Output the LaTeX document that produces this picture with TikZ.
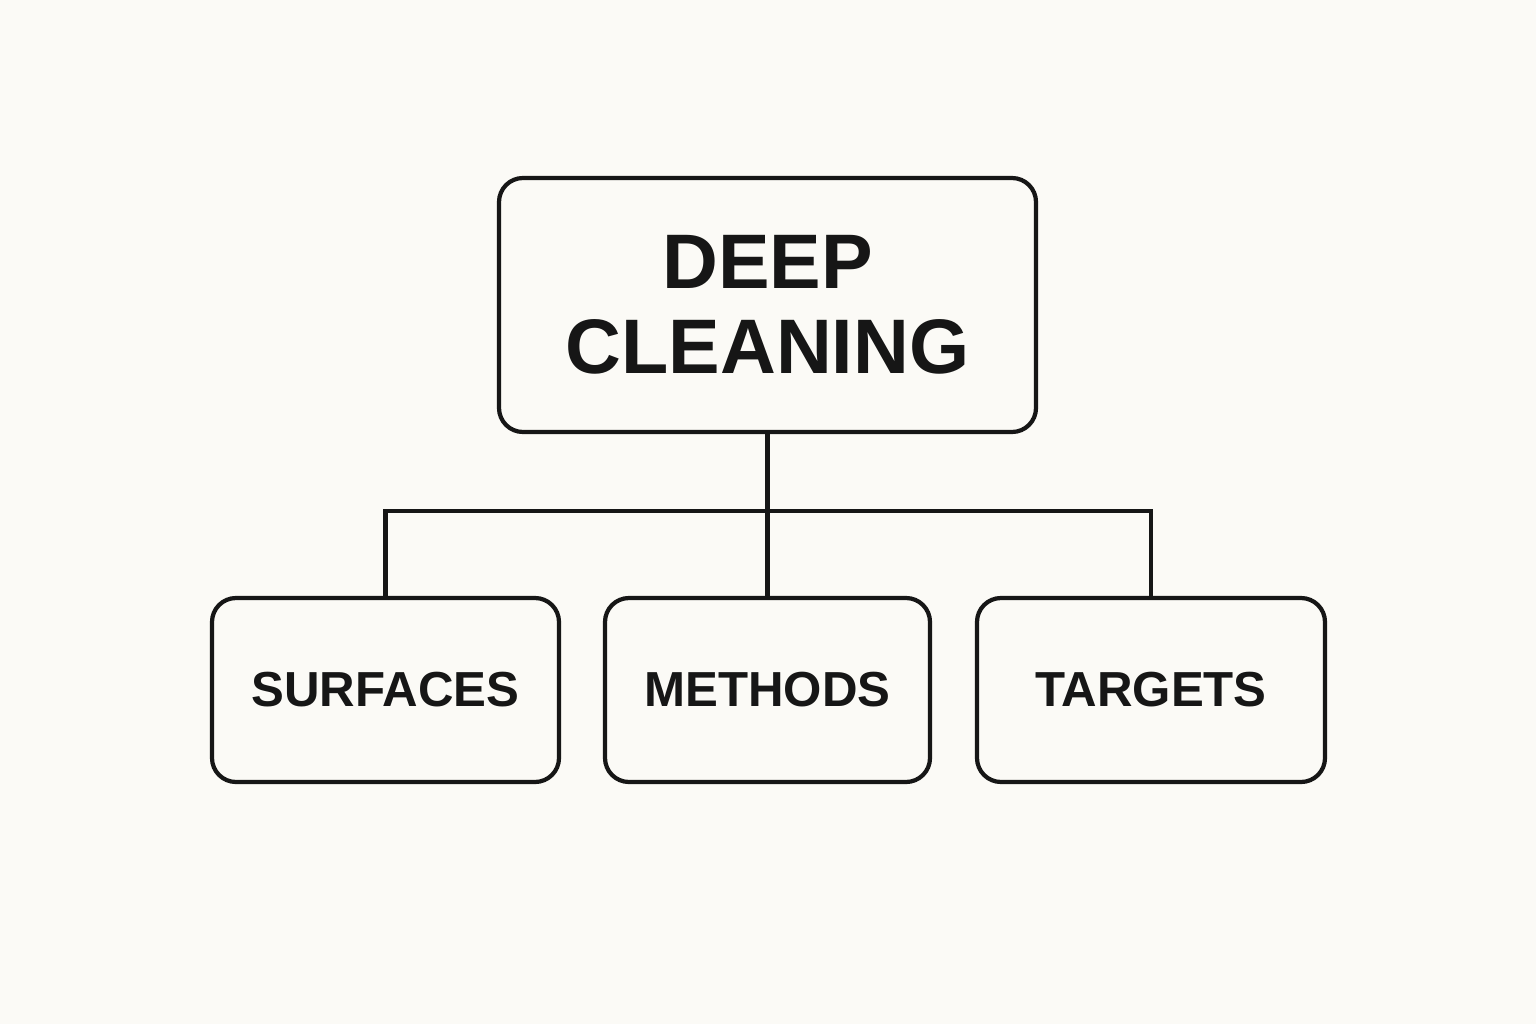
\documentclass[tikz,border=0pt]{standalone}
\usepackage{fontspec}
\setmainfont{Liberation Sans}
\usepackage[dvipsnames]{xcolor}
\definecolor{BGcolor}{HTML}{FBFAF6}
\definecolor{LINEcolor}{HTML}{161616}
\usepackage{tikz}
\usetikzlibrary{math}

\begin{document}
\begin{tikzpicture}
    \tikzmath{%
        \wfig=15.36;
        \hfig=10.24;
        \ytop=7.19;
        \ybox=3.34;
        \ybar=5.13;
    };
    \tikzset{%
        catbox/.style={draw=LINEcolor, line width=1.2pt, rounded corners=0.24cm,
            minimum height=1.84cm, inner sep=0pt, align=center,
            font=\fontsize{14pt}{16pt}\selectfont\bfseries, text=LINEcolor},
        wire/.style={draw=LINEcolor, line width=1.2pt},
    }

    \fill [BGcolor] (0, 0) rectangle (\wfig, \hfig);
    \useasboundingbox (0, 0) rectangle (\wfig, \hfig);

    % top
    \node [catbox, minimum width=5.37cm, minimum height=2.54cm,
        font=\fontsize{22pt}{24.2pt}\selectfont\bfseries] (deep) at (7.675, \ytop) {DEEP\\CLEANING};

    % categories
    \node [catbox, minimum width=3.47cm] (surfaces) at (3.855, \ybox) {SURFACES};
    \node [catbox, minimum width=3.25cm] (methods) at (7.675, \ybox) {METHODS};
    \node [catbox, minimum width=3.48cm] (targets) at (11.51, \ybox) {TARGETS};

    % tree lines
    \coordinate (bar) at (7.675, \ybar);
    \draw [wire] (deep.south) -- (bar) -- (methods.north);
    \draw [wire] (surfaces.north) -- (surfaces.north |- bar) -- (targets.north |- bar) -- (targets.north);

\end{tikzpicture}
\end{document}
